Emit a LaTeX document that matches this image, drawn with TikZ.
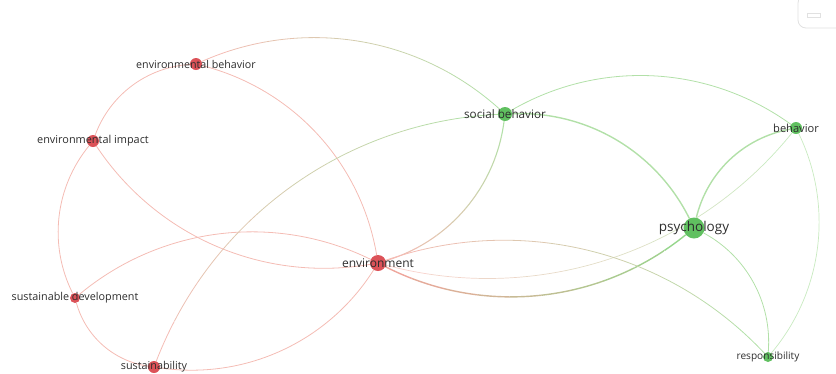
\documentclass[tikz,border=0pt]{standalone}
\usepackage{fontspec}
\setmainfont{Open Sans}
\usetikzlibrary{backgrounds,calc}
\definecolor{rednode}{RGB}{220,82,88}
\definecolor{greennode}{RGB}{96,192,96}
\definecolor{redge}{RGB}{244,188,180}
\definecolor{redgedark}{RGB}{238,166,156}
\definecolor{redgelight}{RGB}{248,210,204}
\definecolor{gedge}{RGB}{178,224,168}
\definecolor{gedgedark}{RGB}{150,214,140}
\definecolor{gedgelight}{RGB}{200,234,192}
\definecolor{lbltext}{RGB}{45,45,45}
\definecolor{uigray}{RGB}{225,225,225}
\newcommand\gradedge[5][]{%
  \foreach \i in {0,...,9}{%
    \pgfmathsetmacro\ta{\i==0 ? -0.3 : \i/10}%
    \pgfmathsetmacro\tb{\i==9 ? 1.3 : (\i+1)/10}%
    \pgfmathtruncatemacro\pc{100-\i*100/9}%
    \begin{scope}
      \coordinate (gA) at ($(#2)!\ta!(#3)$);
      \coordinate (gB) at ($(#2)!\tb!(#3)$);
      \clip ($(gA)!400pt!90:(gB)$) -- ($(gB)!400pt!-90:(gA)$) -- ($(gB)!400pt!90:(gA)$) -- ($(gA)!400pt!-90:(gB)$) -- cycle;
      \draw[#1,color=#4!\pc!#5] (#2) to (#3);
    \end{scope}
  }%
}
\begin{document}
\begin{tikzpicture}[x=1pt,y=1pt,
  rn/.style={circle,fill=rednode,inner sep=0pt,minimum size=#1},
  gn/.style={circle,fill=greennode,inner sep=0pt,minimum size=#1},
  lbl/.style={text=lbltext,inner sep=0pt,font=\fontsize{#1}{#1}\selectfont},
  edge/.style={line width=0.8pt,bend left=33,looseness=0.93},
  thickedge/.style={line width=1.4pt,bend left=33,looseness=0.93}]
\useasboundingbox (0,0) rectangle (836,-373);
% UI widget (top right)
\begin{scope}
\clip (0,0) rectangle (836,-373);
\draw[uigray,line width=0.8pt,rounded corners=8pt] (850,5) -- (798,5) -- (798,-28) -- (850,-28);
\draw[uigray,line width=0.8pt] (807,-13) rectangle (820,-17);
\end{scope}
% nodes
\node[rn=12] (eb) at (196,-64) {};
\node[rn=12] (ei) at (93,-141) {};
\node[rn=10] (sd) at (75,-298) {};
\node[rn=12] (su) at (154,-367) {};
\node[rn=16] (env) at (378,-263) {};
\node[gn=14] (sb) at (505,-114) {};
\node[gn=12] (be) at (796,-128) {};
\node[gn=21] (ps) at (694,-228) {};
\node[gn=10] (re) at (768,-357) {};
% labels
\node[lbl=10.7] (ebl) at (eb) {environmental behavior};
\node[lbl=10.9] (eil) at (ei) {environmental impact};
\node[lbl=10.8] (sdl) at (sd) {sustainable development};
\node[lbl=10.8] (sul) at (su) {sustainability};
\node[lbl=12] (envl) at (env) {environment};
\node[lbl=11.7] (sbl) at (sb) {social behavior};
\node[lbl=11.1] (bel) at (be) {behavior};
\node[lbl=13.5] (psl) at (ps) {psychology};
\node[lbl=10.1] (rel) at (re) {responsibility};
% edges
\begin{scope}[on background layer]
\gradedge[edge]{eb}{sb}{redge}{gedge}
\draw[edge,redge] (eb) to (env);
\draw[edge,redge] (ei) to (eb);
\draw[edge,redge] (env) to (ei);
\draw[edge,redge] (sd) to (ei);
\draw[edge,redge] (sd) to (env);
\draw[edge,redge] (su) to (sd);
\draw[edge,redge] (env) to (su);
\gradedge[edge]{su}{sb}{redge}{gedge}
\gradedge[edge,line width=1.1pt]{sb}{env}{gedge}{redge}
\gradedge[thickedge]{ps}{env}{gedgedark}{redgedark}
\gradedge[edge,line width=0.7pt]{be}{env}{gedgelight}{redgelight}
\gradedge[edge]{env}{re}{redge}{gedge}
\draw[thickedge,gedge] (sb) to (ps);
\draw[edge,gedge] (sb) to (be);
\draw[thickedge,gedge] (ps) to (be);
\draw[edge,gedge] (ps) to (re);
\draw[edge,gedgelight,line width=0.7pt] (be) to (re);
\end{scope}
\end{tikzpicture}
\end{document}
